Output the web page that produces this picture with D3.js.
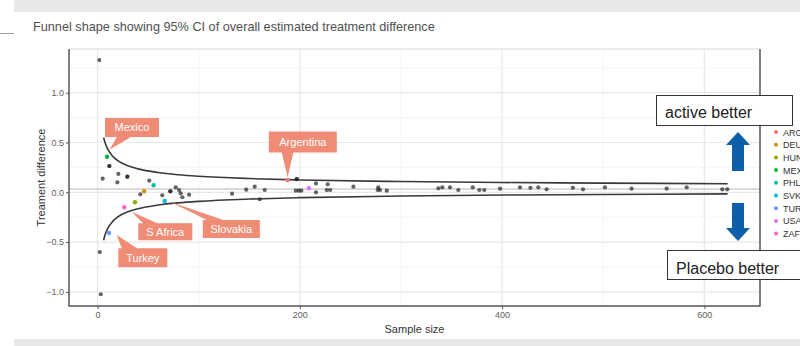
<!DOCTYPE html>
<html>
<head>
<meta charset="utf-8">
<script src="https://cdn.jsdelivr.net/npm/d3@7"></script>
<style>
  body { margin: 0; background: #fff; }
  text { font-family: "Liberation Sans", Arial, sans-serif; }
</style>
</head>
<body>
<div id="chart"></div>
<script>
// ---- data ----
const countries = ["ARG", "DEU", "HUN", "MEX", "PHL", "SVK", "TUR", "USA", "ZAF"];
const countryColors = ["#F8766D", "#D39200", "#93AA00", "#00BA38", "#00C19F", "#00B9E3", "#619CFF", "#DB72FB", "#FF61C3"];
const countryN = [188, 46, 37, 9.4, 55.5, 66.4, 11.4, 209, 26.5];
const countryDiff = [0.123, 0.01, -0.10, 0.357, 0.07, -0.087, -0.409, 0.04, -0.15];

const otherN = [1.8, 2.2, 3.2, 5.1, 11.7, 11.7, 20.6, 19.6, 29.5, 29.5, 51.2, 42.3, 64, 72, 72, 77.3, 80.6, 82.2, 83.9, 90.5,
  133, 147, 155.4, 160.4, 165.3, 197, 197, 196, 199, 201.5, 216, 216, 227.6, 226.6, 230, 253, 277.6, 277, 279.3, 286,
  337, 341, 348.5, 356.7, 371, 377.5, 382.4, 398, 417.7, 428, 435.8, 444, 470, 480, 501.7, 528, 562.7, 582.5, 617.7, 622.6];
const otherDiff = [1.328, -0.60, -1.024, 0.137, 0.264, 0.264, 0.184, 0.10, 0.157, 0.157, 0.117, -0.02, -0.03, 0.01, 0.01, 0.05, 0.023, -0.01, -0.05, -0.024,
  -0.014, 0.026, 0.056, -0.07, 0.023, 0.133, 0.133, 0.016, 0.016, 0.016, 0.089, 0.0, 0.08, 0.023, 0.023, 0.056, 0.05, 0.023, 0.023, 0.016,
  0.04, 0.05, 0.05, 0.023, 0.05, 0.023, 0.023, 0.036, 0.05, 0.045, 0.05, 0.03, 0.045, 0.03, 0.05, 0.036, 0.036, 0.05, 0.03, 0.03];

// funnel limits (95% CI) read at several sample sizes
const funnelN = [6, 8, 10, 15, 20, 30, 40, 60, 80, 100, 150, 200, 300, 400, 500, 623];
const funnelUpper = [0.551, 0.482, 0.435, 0.362, 0.318, 0.266, 0.235, 0.198, 0.176, 0.161, 0.138, 0.124, 0.108, 0.098, 0.092, 0.086];
const funnelLower = [-0.481, -0.412, -0.365, -0.292, -0.248, -0.196, -0.165, -0.128, -0.106, -0.091, -0.068, -0.054, -0.038, -0.028, -0.022, -0.016];
const overallEstimate = 0.033;

const xTicks = [0, 200, 400, 600];
const xMinor = [100, 300, 500];
const yTicks = [-1.0, -0.5, 0.0, 0.5, 1.0];
const yMinor = [-0.75, -0.25, 0.25, 0.75, 1.25];

const labelNames = ["Mexico", "Argentina", "S Africa", "Slovakia", "Turkey"];

// ---- layout ----
const W = 800, H = 346;
const svg = d3.select("#chart").append("svg").attr("width", W).attr("height", H);

// page frame
svg.append("rect").attr("x", 14).attr("y", 0).attr("width", W - 14).attr("height", 12).attr("fill", "#e8e8e8");
svg.append("rect").attr("x", 14).attr("y", 339).attr("width", W - 14).attr("height", 7).attr("fill", "#e8e8e8");
svg.append("line").attr("x1", 0).attr("x2", 14).attr("y1", 33.5).attr("y2", 33.5).attr("stroke", "#a0a0a0");

svg.append("text").attr("x", 33).attr("y", 31).attr("font-size", 12.7).attr("fill", "#505050")
  .text("Funnel shape showing 95% CI of overall estimated treatment difference");

const panel = {left: 69, right: 760, top: 49, bottom: 306};

const x = d3.scaleLinear().domain([-28.2, 655]).range([panel.left, panel.right]);
const y = d3.scaleLinear().domain([-1.142, 1.439]).range([panel.bottom, panel.top]);

const g = svg.append("g");

// grid
g.selectAll(".xminor").data(xMinor).join("line")
  .attr("x1", d => x(d)).attr("x2", d => x(d)).attr("y1", panel.top).attr("y2", panel.bottom)
  .attr("stroke", "#f3f3f3").attr("stroke-width", 0.8);
g.selectAll(".yminor").data(yMinor).join("line")
  .attr("y1", d => y(d)).attr("y2", d => y(d)).attr("x1", panel.left).attr("x2", panel.right)
  .attr("stroke", "#f3f3f3").attr("stroke-width", 0.8);
g.selectAll(".xmajor").data(xTicks).join("line")
  .attr("x1", d => x(d)).attr("x2", d => x(d)).attr("y1", panel.top).attr("y2", panel.bottom)
  .attr("stroke", "#e8e8e8").attr("stroke-width", 1.2);
g.selectAll(".ymajor").data(yTicks).join("line")
  .attr("y1", d => y(d)).attr("y2", d => y(d)).attr("x1", panel.left).attr("x2", panel.right)
  .attr("stroke", "#e8e8e8").attr("stroke-width", 1.2);

// overall estimate line
g.append("line").attr("x1", panel.left).attr("x2", panel.right)
  .attr("y1", y(overallEstimate)).attr("y2", y(overallEstimate))
  .attr("stroke", "#b5b5b5").attr("stroke-width", 1);

// funnel
const line = d3.line().x(d => x(d[0])).y(d => y(d[1])).curve(d3.curveMonotoneX);
[funnelUpper, funnelLower].forEach(arr => {
  g.append("path").datum(funnelN.map((n, i) => [n, arr[i]]))
    .attr("d", line).attr("fill", "none").attr("stroke", "#3a3a3a").attr("stroke-width", 1.6);
});

// points
g.selectAll(".other").data(otherN.map((n, i) => [n, otherDiff[i]])).join("circle")
  .attr("cx", d => x(d[0])).attr("cy", d => y(d[1])).attr("r", 2.1)
  .attr("fill", "#222").attr("opacity", 0.7);
g.selectAll(".ctry").data(countries.map((c, i) => [countryN[i], countryDiff[i], countryColors[i]])).join("circle")
  .attr("cx", d => x(d[0])).attr("cy", d => y(d[1])).attr("r", 2.2)
  .attr("fill", d => d[2]);

// axes
const xAxis = svg.append("g").attr("transform", `translate(0,${panel.bottom})`)
  .call(d3.axisBottom(x).tickValues(xTicks).tickSize(3).tickPadding(3).tickFormat(d3.format("d")));
const yAxis = svg.append("g").attr("transform", `translate(${panel.left},0)`)
  .call(d3.axisLeft(y).tickValues(yTicks).tickSize(3).tickPadding(2).tickFormat(d3.format(".1f")));
[xAxis, yAxis].forEach(a => {
  a.select(".domain").remove();
  a.selectAll(".tick line").attr("stroke", "#555");
  a.selectAll(".tick text").attr("fill", "#606060").attr("font-size", 9)
    .style("font-family", "'Liberation Sans', Arial, sans-serif");
});

// panel border
svg.append("line").attr("x1", panel.left).attr("x2", panel.right).attr("y1", panel.top).attr("y2", panel.top)
  .attr("stroke", "#d8d8d8");
svg.append("path")
  .attr("d", `M${panel.left},${panel.top}V${panel.bottom}H${panel.right}V${panel.top}`)
  .attr("fill", "none").attr("stroke", "#555").attr("stroke-width", 1.5);

// axis titles
svg.append("text").attr("x", (panel.left + panel.right) / 2).attr("y", 333)
  .attr("text-anchor", "middle").attr("font-size", 11).attr("fill", "#333").text("Sample size");
svg.append("text").attr("transform", `translate(45,${(panel.top + panel.bottom) / 2}) rotate(-90)`)
  .attr("text-anchor", "middle").attr("font-size", 11).attr("fill", "#333").text("Treament difference");

// callout labels: box centre (n, diff), box size, tip (n, diff), pointer edge and base fraction
const labelBox = [[34.1, 0.651], [203, 0.505], [67, -0.396], [132.3, -0.368], [44.8, -0.658]];
const labelSize = [[54, 19], [68, 21], [54, 17], [57, 18], [49, 19]];
const labelTip = [[12, 0.43], [188, 0.15], [33.8, -0.195], [71.7, -0.094], [19, -0.43]];
const labelEdge = ["bottom", "bottom", "top", "top", "top"];
const labelBase = [[0.22, 0.48], [0.19, 0.36], [0.09, 0.35], [0.07, 0.36], [0.07, 0.38]];

labelNames.forEach((name, i) => {
  const cx = x(labelBox[i][0]), cy = y(labelBox[i][1]);
  const [w, h] = labelSize[i];
  const x0 = cx - w / 2, y0 = cy - h / 2;
  const tx = x(labelTip[i][0]), ty = y(labelTip[i][1]);
  const b0 = x0 + w * labelBase[i][0], b1 = x0 + w * labelBase[i][1];
  let d;
  if (labelEdge[i] === "bottom") {
    d = `M${x0},${y0}H${x0 + w}V${y0 + h}H${b1}L${tx},${ty}L${b0},${y0 + h}H${x0}Z`;
  } else {
    d = `M${x0},${y0}H${b0}L${tx},${ty}L${b1},${y0}H${x0 + w}V${y0 + h}H${x0}Z`;
  }
  svg.append("path").attr("d", d).attr("fill", "#f08c76");
  svg.append("text").attr("x", cx).attr("y", cy + 4).attr("text-anchor", "middle")
    .attr("font-size", 11).attr("fill", "#fff").text(name);
});

// annotation boxes and arrows
svg.append("rect").attr("x", 656.5).attr("y", 95.5).attr("width", 136).attr("height", 30)
  .attr("fill", "#fff").attr("stroke", "#333");
svg.append("text").attr("x", 665).attr("y", 118).attr("font-size", 16).attr("fill", "#222").text("active better");
svg.append("rect").attr("x", 667.5).attr("y", 250.5).attr("width", 140).attr("height", 29)
  .attr("fill", "#fff").attr("stroke", "#333");
svg.append("text").attr("x", 676).attr("y", 274).attr("font-size", 16).attr("fill", "#222").text("Placebo better");

const arrowBlue = "#0c5fa8";
svg.append("path").attr("d", "M738,132L750,145H744V171H732V145H726Z").attr("fill", arrowBlue);
svg.append("path").attr("d", "M732,203H744V228H750L738,241L726,228H732Z").attr("fill", arrowBlue);

// legend (cut off at the right edge, as in the source image)
const legend = svg.append("g");
countries.forEach((c, i) => {
  const ly = 132 + i * 12.7;
  legend.append("circle").attr("cx", 776).attr("cy", ly).attr("r", 2).attr("fill", countryColors[i]);
  legend.append("text").attr("x", 783).attr("y", ly + 3.5).attr("font-size", 9).attr("fill", "#333").text(c);
});
</script>
</body>
</html>
